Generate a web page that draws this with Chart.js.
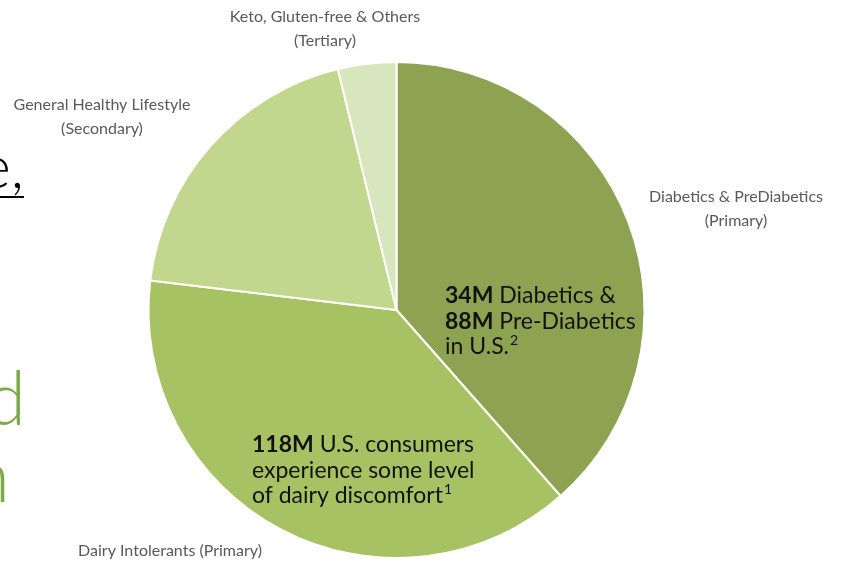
<!DOCTYPE html>
<html>
<head>
<meta charset="utf-8">
<script src="https://cdn.jsdelivr.net/npm/chart.js@4/dist/chart.umd.min.js"></script>
<style>
  html, body { margin: 0; padding: 0; background: #fff; }
  #wrap { position: relative; width: 843px; height: 563px; overflow: hidden; }
</style>
</head>
<body>
<div id="wrap"><canvas id="pieChart" width="843" height="563"></canvas></div>
<script>
// segment names + share of the pie (in %)
const segmentNames = ['Diabetics & PreDiabetics', 'Dairy Intolerants', 'General Healthy Lifestyle', 'Keto, Gluten-free & Others'];
const segmentShares = [38.5, 38.4, 19.3, 3.8];
const segmentColours = ['#8da352', '#a7c262', '#c1d78e', '#d8e6bd'];

// outer labels, one per segment
const outerLabels = [
    ['Diabetics & PreDiabetics', '(Primary)'],
    ['Dairy Intolerants (Primary)'],
    ['General Healthy Lifestyle', '(Secondary)'],
    ['Keto, Gluten-free & Others', '(Tertiary)']
];
const outerLabelPos = [[736, 197], [170, 551], [102, 105], [325, 17]];

// callouts inside the two big slices: [bold part, normal part, superscript]
const diabetesNote = [['34M', ' Diabetics &', ''], ['88M', ' Pre-Diabetics', ''], ['', 'in U.S.', '2']];
const dairyNote = [['118M', ' U.S. consumers', ''], ['', 'experience some level', ''], ['', 'of dairy discomfort', '1']];

// draws the text labels and the cut-off slide text on the left
const labelPlugin = {
    id: 'labels',
    afterDraw(chart) {
        const ctx = chart.ctx;
        ctx.save();

        // outer labels
        ctx.fillStyle = '#595959';
        ctx.font = '16px Lato, "Open Sans", sans-serif';
        ctx.textAlign = 'center';
        ctx.textBaseline = 'middle';
        outerLabels.forEach((lines, i) => {
            lines.forEach((line, j) => {
                ctx.fillText(line, outerLabelPos[i][0], outerLabelPos[i][1] + j * 24);
            });
        });

        // callouts
        function drawNote(note, x, y) {
            ctx.textAlign = 'left';
            ctx.textBaseline = 'alphabetic';
            ctx.fillStyle = '#111';
            note.forEach((row, j) => {
                let cx = x;
                const by = y + j * 25.5;
                if (row[0]) {
                    ctx.font = 'bold 23px Lato, "Noto Sans", sans-serif';
                    ctx.fillText(row[0], cx, by);
                    cx += ctx.measureText(row[0]).width;
                }
                ctx.font = '23px Lato, "Noto Sans", sans-serif';
                ctx.fillText(row[1], cx, by);
                cx += ctx.measureText(row[1]).width;
                if (row[2]) {
                    ctx.font = '14px Lato, "Noto Sans", sans-serif';
                    ctx.fillText(row[2], cx + 1, by - 9);
                }
            });
        }
        drawNote(diabetesNote, 445, 303);
        drawNote(dairyNote, 252, 452);

        // slide text cut off on the left edge
        ctx.textAlign = 'right';
        ctx.fillStyle = '#000';
        ctx.font = '300 60px Lato, sans-serif';
        ctx.fillText('e,', 24, 188);
        ctx.fillRect(0, 196, 24, 2);
        ctx.fillStyle = '#7eaa4a';
        ctx.font = '300 74px Lato, sans-serif';
        ctx.fillText('d', 26, 425);
        ctx.fillText('n', 10, 502);

        ctx.restore();
    }
};

new Chart(document.getElementById('pieChart'), {
    type: 'pie',
    data: {
        labels: segmentNames,
        datasets: [{
            data: segmentShares,
            backgroundColor: segmentColours,
            borderColor: '#ffffff',
            borderWidth: 2
        }]
    },
    options: {
        responsive: false,
        animation: false,
        layout: { padding: { top: 61, bottom: 4, left: 147, right: 197 } },
        plugins: {
            legend: { display: false },
            tooltip: { enabled: false }
        }
    },
    plugins: [labelPlugin]
});
</script>
</body>
</html>
